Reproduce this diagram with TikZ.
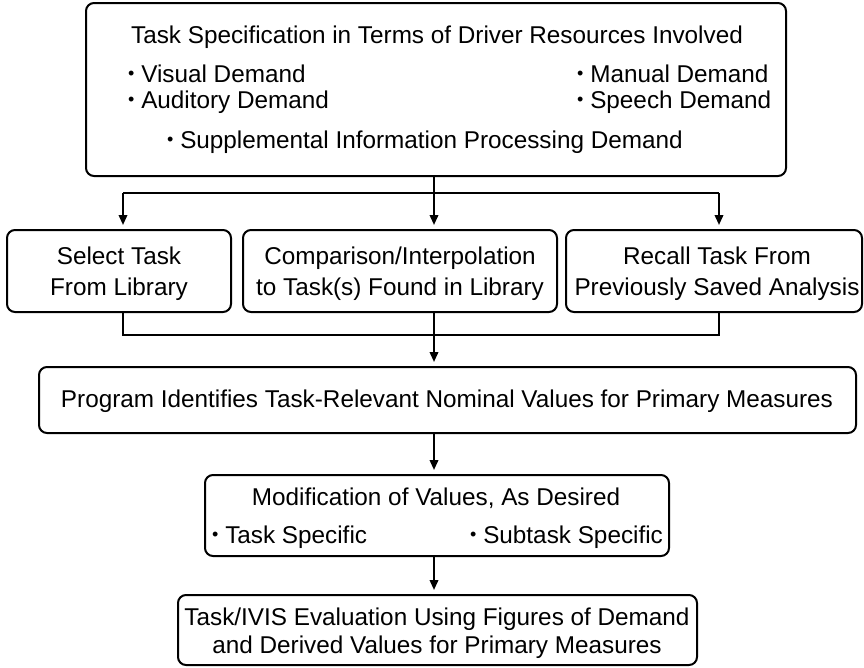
\documentclass[tikz,border=0pt]{standalone}
\usepackage{fontspec}
\setmainfont{Liberation Sans}
\usetikzlibrary{arrows.meta}
\newcommand\bulletdot{\raisebox{0.1em}{\fontsize{18}{18}\selectfont•}}
\begin{document}
\begin{tikzpicture}[x=1pt,y=-1pt,
  box/.style={draw,line width=2pt,rounded corners=8pt,inner sep=0pt},
  txt/.style={inner sep=0pt,anchor=base,font=\fontsize{24.3}{29}\selectfont},
  ltxt/.style={txt,anchor=base west},
  link/.style={line width=2pt},
  arr/.style={link,-{Triangle[length=10pt,width=8.5pt]},shorten >=4pt}]
\useasboundingbox (0,0) rectangle (864,667);
\fill[white] (0,0) rectangle (864,667);

% boxes
\node[box,minimum width=700pt,minimum height=173pt] (spec) at (436,89.5) {};
\node[box,minimum width=224pt,minimum height=82pt] (lib) at (119,271) {};
\node[box,minimum width=314pt,minimum height=82pt] (cmp) at (400,271) {};
\node[box,minimum width=296pt,minimum height=82pt] (rec) at (714,271) {};
\node[box,minimum width=817pt,minimum height=66pt] (prog) at (447.5,400) {};
\node[box,minimum width=464pt,minimum height=81pt] (mod) at (437,515.5) {};
\node[box,minimum width=519pt,minimum height=70pt] (eval) at (437.5,630) {};

% texts
\node[txt] (t0) at (437,43) {Task Specification in Terms of Driver Resources Involved};
\node[ltxt] (t1) at (128,82) {\bulletdot\ Visual Demand};
\node[ltxt] (t2) at (128,108) {\bulletdot\ Auditory Demand};
\node[ltxt] (t3) at (577,82) {\bulletdot\ Manual Demand};
\node[ltxt] (t4) at (577,108) {\bulletdot\ Speech Demand};
\node[ltxt] (t5) at (167,148) {\bulletdot\ Supplemental Information Processing Demand};

\node[txt] (l1) at (119,264) {Select Task};
\node[txt] (l2) at (119,295) {From Library};
\node[txt] (c1) at (400,264) {Comparison/Interpolation};
\node[txt] (c2) at (400,295) {to Task(s) Found in Library};
\node[txt] (r1) at (717,264) {Recall Task From};
\node[txt] (r2) at (717,295) {Previously Saved Analysis};

\node[txt] (p1) at (447,407) {Program Identifies Task-Relevant Nominal Values for Primary Measures};

\node[txt] (m1) at (436,505) {Modification of Values, As Desired};
\node[ltxt] (m2) at (212,543) {\bulletdot\ Task Specific};
\node[ltxt] (m3) at (470,543) {\bulletdot\ Subtask Specific};

\node[txt] (e1) at (437,625) {Task/IVIS Evaluation Using Figures of Demand};
\node[txt] (e2) at (437,653) {and Derived Values for Primary Measures};

% connector guide points
\coordinate (xl) at (123,193);
\coordinate (xc) at (434,193);
\coordinate (xr) at (719,193);
\coordinate (ml) at (123,335);
\coordinate (mr) at (719,335);

% fan-out from the specification
\draw[link] (xl) -- (xr);
\draw[arr] (xc |- spec.south) -- (xc |- cmp.north);
\draw[arr] (xl) -- (xl |- lib.north);
\draw[arr] (xr) -- (xr |- rec.north);

% merge into the program step
\draw[link] (ml |- lib.south) -- (ml) -- (mr) -- (mr |- rec.south);
\draw[arr] (xc |- cmp.south) -- (xc |- prog.north);

\draw[arr] (xc |- prog.south) -- (xc |- mod.north);
\draw[arr] (xc |- mod.south) -- (xc |- eval.north);
\end{tikzpicture}
\end{document}
